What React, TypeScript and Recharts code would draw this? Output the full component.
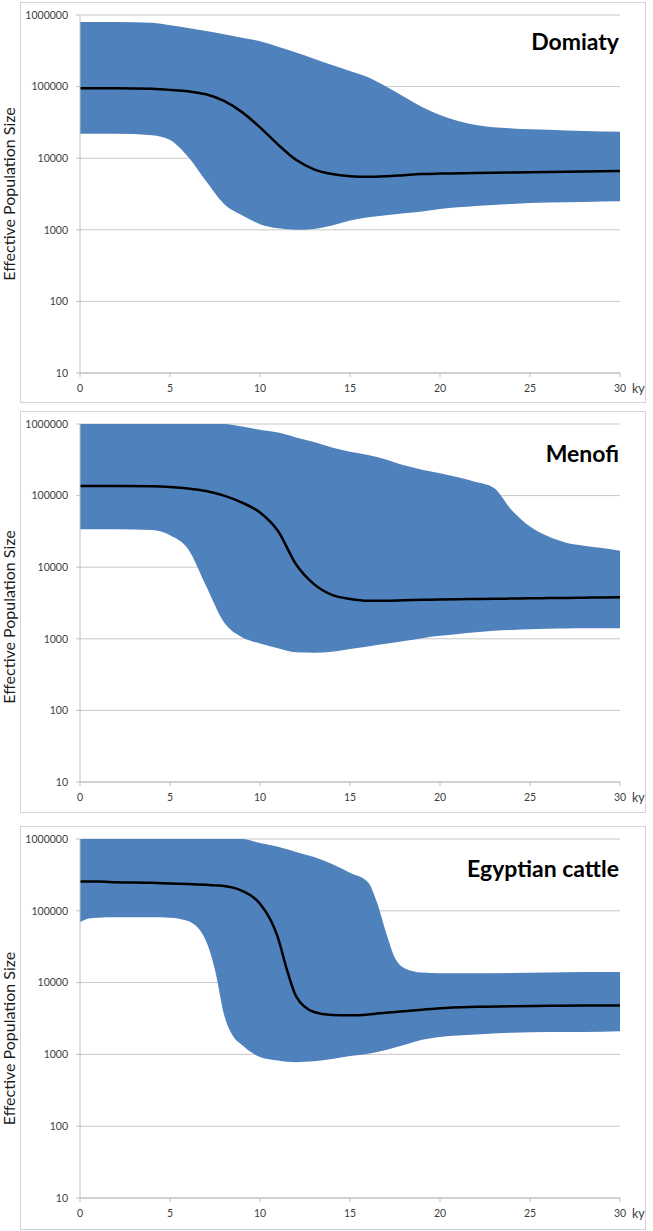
import React from 'react'
import { ComposedChart, Area, Line, XAxis, YAxis, CartesianGrid } from 'recharts'

// Domiaty
const domiatyKy = [0, 2, 4, 5, 6, 7, 8, 9, 10, 11, 12, 13, 14, 15, 16, 17, 18, 19, 20, 22, 24, 26, 28, 30]
const domiatyUpper = [800000, 800000, 780000, 720000, 660000, 600000, 540000, 480000, 430000, 360000, 300000, 245000, 200000, 165000, 135000, 100000, 72000, 52000, 40000, 29000, 26000, 25000, 24000, 23500]
const domiatyMedian = [95000, 95000, 93000, 90000, 86000, 78000, 63000, 44000, 27000, 15500, 9500, 7000, 6000, 5600, 5500, 5600, 5800, 6000, 6100, 6200, 6300, 6400, 6500, 6600]
const domiatyLower = [22000, 22000, 21000, 18000, 10500, 4800, 2300, 1600, 1200, 1050, 1000, 1030, 1150, 1350, 1500, 1600, 1700, 1800, 1950, 2150, 2300, 2400, 2450, 2500]

// Menofi
const menofiKy = [0, 2, 4, 5, 6, 7, 8, 9, 10, 11, 12, 13, 14, 15, 16, 17, 18, 19, 20, 21, 22, 23, 24, 25, 26, 27, 28, 29, 30]
const menofiUpper = [1000000, 1000000, 1000000, 1000000, 1000000, 1000000, 1000000, 920000, 830000, 760000, 650000, 560000, 470000, 410000, 370000, 320000, 265000, 230000, 205000, 180000, 155000, 128000, 62000, 37000, 27000, 22000, 20000, 18500, 17000]
const menofiMedian = [136000, 136000, 135000, 132000, 126000, 116000, 100000, 80000, 58000, 32000, 11000, 5800, 4100, 3600, 3400, 3400, 3450, 3500, 3550, 3580, 3600, 3620, 3650, 3680, 3700, 3720, 3750, 3780, 3800]
const menofiLower = [34000, 34000, 33000, 28000, 18000, 5500, 1700, 1050, 860, 740, 650, 640, 660, 720, 780, 850, 930, 1020, 1100, 1170, 1230, 1300, 1330, 1360, 1380, 1390, 1400, 1400, 1400]

// Egyptian cattle
const egyptKy = [0, 0.5, 1, 2, 4, 5, 6, 7, 7.5, 8, 8.5, 9, 10, 11, 11.5, 12, 13, 14, 15, 16, 16.5, 17, 17.5, 18, 19, 20, 22, 24, 26, 28, 30]
const egyptUpper = [1000000, 1000000, 1000000, 1000000, 1000000, 1000000, 1000000, 1000000, 1000000, 1000000, 1000000, 1000000, 880000, 780000, 720000, 660000, 560000, 450000, 340000, 250000, 130000, 50000, 22000, 16000, 13800, 13500, 13500, 13600, 13800, 14000, 14000]
const egyptMedian = [255000, 255000, 255000, 250000, 245000, 240000, 236000, 230000, 226000, 222000, 210000, 190000, 125000, 42000, 15000, 6500, 3900, 3550, 3500, 3600, 3700, 3800, 3900, 4000, 4200, 4400, 4600, 4700, 4750, 4800, 4800]
const egyptLower = [69000, 78000, 80000, 81000, 81000, 80000, 72000, 38000, 15000, 3600, 1800, 1350, 920, 820, 790, 780, 800, 860, 950, 1020, 1080, 1150, 1250, 1350, 1600, 1750, 1900, 2000, 2050, 2050, 2100]

const xTicks = [0, 5, 10, 15, 20, 25, 30]
const yTicks = [10, 100, 1000, 10000, 100000, 1000000]

const FONT = 'Lato, "Open Sans", sans-serif'
const AXIS = '#bfbfbf'

type PanelProps = {
  title: string
  ky: number[]
  upper: number[]
  median: number[]
  lower: number[]
  top: number
  height: number
  bottom: number
  titleTop: number
  labelShift: number
}

function Panel({ title, ky, upper, median, lower, top, height, bottom, titleTop, labelShift }: PanelProps) {
  const data = ky.map((k, i) => ({ ky: k, band: [lower[i], upper[i]], median: median[i] }))
  const plotTop = 13
  const midY = plotTop + (height - bottom - plotTop) / 2 + labelShift

  return (
    <div style={{ position: 'absolute', left: 0, top, width: 653, height }}>
      <div
        style={{
          position: 'absolute',
          left: 20,
          top: 0,
          width: 626,
          height,
          border: '1px solid #d4d4d4',
          boxSizing: 'border-box',
        }}
      />
      <div style={{ position: 'absolute', left: 0, top: 0 }}>
        <ComposedChart width={646} height={height} data={data} margin={{ top: plotTop, right: 26, bottom: 0, left: 0 }}>
          <CartesianGrid vertical={false} stroke="#c8c8c8" />
          <XAxis
            dataKey="ky"
            type="number"
            domain={[0, 30]}
            ticks={xTicks}
            height={bottom}
            stroke={AXIS}
            tickSize={4}
            tickMargin={8}
            tick={{ fontSize: 10.5, fill: '#404040', fontFamily: FONT }}
            label={{
              content: () => (
                <text x={632} y={height - bottom + 20} fontSize={12.5} fill="#404040" fontFamily={FONT}>
                  ky
                </text>
              ),
            }}
          />
          <YAxis
            type="number"
            scale="log"
            domain={[10, 1000000]}
            ticks={yTicks}
            allowDataOverflow
            width={80}
            stroke={AXIS}
            tickSize={4}
            tickMargin={8}
            tick={{ fontSize: 10.5, fill: '#404040', fontFamily: FONT }}
            label={{
              content: () => (
                <text
                  transform={`translate(15, ${midY}) rotate(-90)`}
                  textAnchor="middle"
                  fontSize={16}
                  fill="#1a1a1a"
                  fontFamily={FONT}
                >
                  Effective Population Size
                </text>
              ),
            }}
          />
          <Area
            type="monotone"
            dataKey="band"
            stroke="none"
            fill="#4f81bd"
            fillOpacity={1}
            isAnimationActive={false}
          />
          <Line
            type="monotone"
            dataKey="median"
            stroke="#000000"
            strokeWidth={2.5}
            dot={false}
            isAnimationActive={false}
          />
        </ComposedChart>
      </div>
      <div
        style={{
          position: 'absolute',
          right: 34,
          top: titleTop,
          fontFamily: FONT,
          fontWeight: 700,
          fontSize: 23,
          lineHeight: 1,
          color: '#000',
          whiteSpace: 'nowrap',
        }}
      >
        {title}
      </div>
    </div>
  )
}

export default function App() {
  return (
    <div style={{ position: 'absolute', left: 0, top: 0, width: 653, height: 1231, background: '#fff' }}>
      <Panel title="Domiaty" ky={domiatyKy} upper={domiatyUpper} median={domiatyMedian} lower={domiatyLower} top={2} height={401} bottom={30} titleTop={28} labelShift={0} />
      <Panel title="Menofi" ky={menofiKy} upper={menofiUpper} median={menofiMedian} lower={menofiLower} top={411} height={402} bottom={31} titleTop={31} labelShift={14} />
      <Panel title="Egyptian cattle" ky={egyptKy} upper={egyptUpper} median={egyptMedian} lower={egyptLower} top={826} height={404} bottom={32} titleTop={31} labelShift={20} />
    </div>
  )
}
